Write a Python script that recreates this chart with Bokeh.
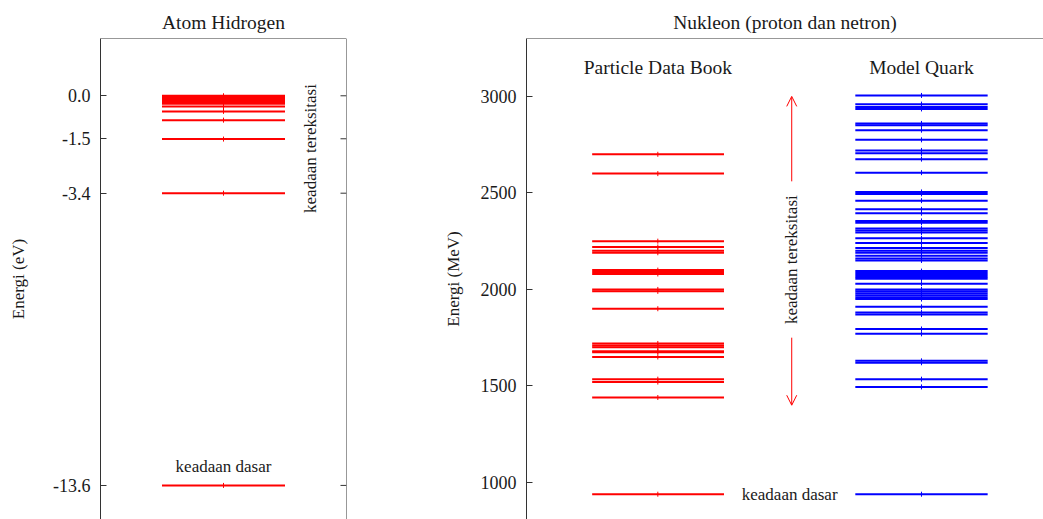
import numpy as np
from bokeh.plotting import figure
from bokeh.layouts import row
from bokeh.models import Range1d, LinearAxis, FixedTicker, Arrow, OpenHead, ColumnDataSource, Span
from bokeh.core.properties import value
from bokeh.embed import file_html
from bokeh.resources import INLINE

# ---------------- data ----------------
hydrogen_levels = [-13.6, -3.4, -1.511, -0.85, -0.544, -0.378, -0.278, -0.213, -0.168,
                   -0.136, -0.112, -0.094, -0.080, -0.069, -0.060, -0.053, -0.047,
                   -0.042, -0.038, -0.034, -0.031, -0.028, -0.026, -0.024, -0.022, 0.0]
hydrogen_ticks = [0.0, -1.5, -3.4, -13.6]
hydrogen_tick_labels = ["0.0", "-1.5", "-3.4", "-13.6"]

pdg_levels = [939, 1440, 1520, 1535, 1650, 1675, 1680, 1700, 1710, 1720, 1900,
              1990, 2000, 2080, 2090, 2100, 2190, 2200, 2220, 2250, 2600, 2700]
quark_levels = [939, 1495, 1535, 1620, 1630, 1770, 1795, 1870, 1880, 1910, 1950,
                1960, 1970, 1980, 1990, 2000, 2030, 2055, 2065, 2075, 2085, 2095,
                2150, 2160, 2175, 2190, 2200, 2215, 2240, 2265, 2295, 2305, 2315,
                2345, 2355, 2395, 2415, 2460, 2495, 2505, 2605, 2675, 2705, 2720,
                2775, 2825, 2850, 2860, 2935, 2945, 2960, 3005]
nucleon_ticks = [1000, 1500, 2000, 2500, 3000]

FONT = "Liberation Serif"
AX = "#333333"
TXT = "#1a1a1a"
RED = "#ff0000"
BLUE = "#0000ff"
TICK_FS = "18px"
TITLE_FS = "19.5px"
NOTE_FS = "17px"


def style_fig(p):
    p.grid.visible = False
    p.outline_line_color = None
    p.background_fill_color = "white"
    p.border_fill_color = "white"
    p.title.align = "center"
    p.title.text_font = FONT
    p.title.text_font_style = "normal"
    p.title.text_font_size = TITLE_FS
    p.title.text_color = TXT
    p.title.standoff = 12


def make_axis(ticks, labels, axis_label, standoff):
    ax = LinearAxis(ticker=FixedTicker(ticks=ticks))
    ax.axis_line_color = AX
    ax.axis_line_width = 1
    ax.major_tick_line_color = AX
    ax.major_tick_in = 6
    ax.major_tick_out = 0
    ax.minor_tick_line_color = None
    ax.major_label_text_font = FONT
    ax.major_label_text_font_size = TICK_FS
    ax.major_label_text_color = TXT
    ax.major_label_standoff = 10
    if labels is not None:
        ax.major_label_overrides = {t: l for t, l in zip(ticks, labels)}
    ax.axis_label = axis_label
    ax.axis_label_text_font = FONT
    ax.axis_label_text_font_style = "normal"
    ax.axis_label_text_font_size = NOTE_FS
    ax.axis_label_text_color = TXT
    ax.axis_label_standoff = standoff
    return ax


def add_text(p, x, y, txt, size, angle=0.0):
    p.text(x=x, y=y, text=txt, angle=angle, text_align="center", text_baseline="middle",
           text_font=value(FONT), text_font_size=size, text_color=TXT)


# ---------------- left panel: hydrogen ----------------
H_TOP, H_BOT = 2.0, -14.79
p1 = figure(width=440, height=519, x_range=Range1d(0, 10), y_range=Range1d(H_BOT, H_TOP),
            output_backend="svg", toolbar_location=None,
            x_axis_location=None, y_axis_location=None,
            min_border_left=100, min_border_right=94, min_border_top=38, min_border_bottom=0,
            title="Atom Hidrogen")
style_fig(p1)
p1.add_layout(make_axis(hydrogen_ticks, hydrogen_tick_labels, "Energi (eV)", 22), "left")
p1.add_layout(Span(location=H_TOP, dimension="width", line_color=AX, line_width=1))
p1.add_layout(Span(location=10, dimension="height", line_color=AX, line_width=1))
p1.ray(x=[10] * len(hydrogen_ticks), y=hydrogen_ticks, length=6, length_units="screen",
       angle=np.pi, line_color=AX, line_width=1)

h_src = ColumnDataSource(dict(y=hydrogen_levels,
                              x0=[2.5] * len(hydrogen_levels),
                              x1=[7.5] * len(hydrogen_levels),
                              xc=[5.0] * len(hydrogen_levels)))
p1.segment(x0="x0", y0="y", x1="x1", y1="y", source=h_src, line_color=RED, line_width=2)
p1.scatter(x="xc", y="y", source=h_src, marker="dash", angle=np.pi / 2, size=5,
           line_color=RED, line_width=1)
add_text(p1, [8.54], [-1.84], ["keadaan tereksitasi"], NOTE_FS, np.pi / 2)
add_text(p1, [5.0], [-12.94], ["keadaan dasar"], NOTE_FS)

# ---------------- right panel: nucleon ----------------
N_TOP, N_BOT = 3300, 808
p2 = figure(width=603, height=519, x_range=Range1d(0, 10), y_range=Range1d(N_BOT, N_TOP),
            output_backend="svg", toolbar_location=None,
            x_axis_location=None, y_axis_location=None,
            min_border_left=86, min_border_right=0, min_border_top=38, min_border_bottom=0,
            title="Nukleon (proton dan netron)")
style_fig(p2)
p2.add_layout(make_axis(nucleon_ticks, None, "Energi (MeV)", 15), "left")
p2.add_layout(Span(location=N_TOP, dimension="width", line_color=AX, line_width=1))

r_src = ColumnDataSource(dict(y=pdg_levels,
                              x0=[1.27] * len(pdg_levels),
                              x1=[3.82] * len(pdg_levels),
                              xc=[2.54] * len(pdg_levels)))
b_src = ColumnDataSource(dict(y=quark_levels,
                              x0=[6.36] * len(quark_levels),
                              x1=[8.92] * len(quark_levels),
                              xc=[7.64] * len(quark_levels)))
p2.segment(x0="x0", y0="y", x1="x1", y1="y", source=r_src, line_color=RED, line_width=2)
p2.scatter(x="xc", y="y", source=r_src, marker="dash", angle=np.pi / 2, size=5,
           line_color=RED, line_width=1)
p2.segment(x0="x0", y0="y", x1="x1", y1="y", source=b_src, line_color=BLUE, line_width=2)
p2.scatter(x="xc", y="y", source=b_src, marker="dash", angle=np.pi / 2, size=5,
           line_color=BLUE, line_width=1)

add_text(p2, [2.54, 7.64], [3149, 3149], ["Particle Data Book", "Model Quark"], TITLE_FS)
add_text(p2, [5.12], [2154], ["keadaan tereksitasi"], NOTE_FS, np.pi / 2)
add_text(p2, [5.09], [939], ["keadaan dasar"], NOTE_FS)

p2.add_layout(Arrow(end=OpenHead(size=10, line_color=RED, line_width=1),
                    x_start=5.13, y_start=2560, x_end=5.13, y_end=3000,
                    line_color=RED, line_width=1))
p2.add_layout(Arrow(end=OpenHead(size=10, line_color=RED, line_width=1),
                    x_start=5.13, y_start=1750, x_end=5.13, y_end=1400,
                    line_color=RED, line_width=1))

layout = row(p1, p2)
open("out.html", "w").write(file_html(layout, INLINE))
